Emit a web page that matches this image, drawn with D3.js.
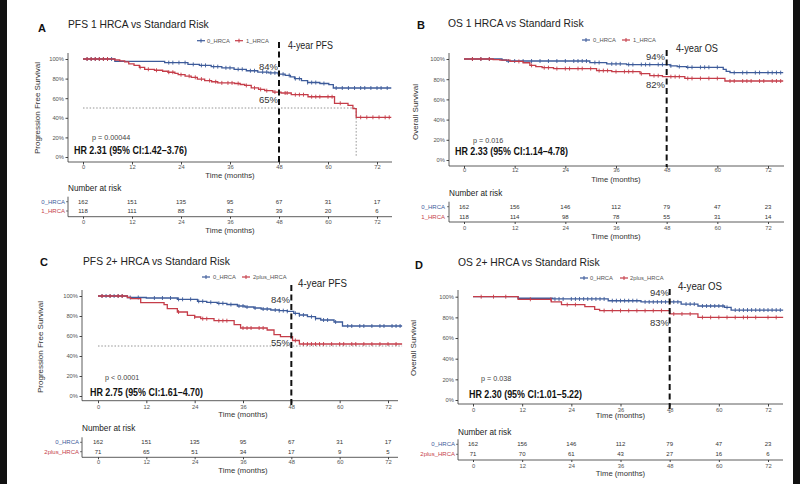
<!DOCTYPE html>
<html>
<head>
<meta charset="utf-8">
<script src="https://cdn.jsdelivr.net/npm/d3@7"></script>
<style>
  body { margin: 0; background: #fff; }
  svg { display: block; font-family: "Liberation Sans", Arial, sans-serif; }
</style>
</head>
<body>
<script>
// ---- data ----
const months = [0, 12, 24, 36, 48, 60, 72];
const yTicks = [0, 20, 40, 60, 80, 100];

const titles = ["PFS 1 HRCA vs Standard Risk", "OS 1 HRCA vs Standard Risk",
                "PFS 2+ HRCA vs Standard Risk", "OS 2+ HRCA vs Standard Risk"];
const letters = ["A", "B", "C", "D"];
const yTitles = ["Progression Free Survival", "Overall Survival",
                 "Progression Free Survival", "Overall Survival"];
const groupNames = [["0_HRCA", "1_HRCA"], ["0_HRCA", "1_HRCA"],
                    ["0_HRCA", "2plus_HRCA"], ["0_HRCA", "2plus_HRCA"]];
const pTexts = ["p = 0.00044", "p = 0.016", "p < 0.0001", "p = 0.038"];
const hrTexts = ["HR 2.31 (95% CI:1.42\u20133.76)", "HR 2.33 (95% CI:1.14\u20134.78)",
                 "HR 2.75 (95% CI:1.61\u20134.70)", "HR 2.30 (95% CI:1.01\u20135.22)"];
const landmarkLabels = ["4-year PFS", "4-year OS", "4-year PFS", "4-year OS"];
const landmarkPct = [["84%", "65%"], ["94%", "82%"], ["84%", "55%"], ["94%", "83%"]];
const landmarkMonth = 48;
const lastFollowUp = [75.5, 75.6, 75.5, 75.7];
const medianTimes = [66.9, null, "none", null]; // null = no median line, "none" = median not reached

// number at risk
const riskA0 = [162, 151, 135, 95, 67, 31, 17];
const riskA1 = [118, 111, 88, 82, 39, 20, 6];
const riskB0 = [162, 156, 146, 112, 79, 47, 23];
const riskB1 = [118, 114, 98, 78, 55, 31, 14];
const riskC0 = [162, 151, 135, 95, 67, 31, 17];
const riskC1 = [71, 65, 51, 34, 17, 9, 5];
const riskD0 = [162, 156, 146, 112, 79, 47, 23];
const riskD1 = [71, 70, 61, 43, 27, 16, 6];

// KM steps: [month, survival % after the drop]
const kmA0 = [[0,100],[7.8,97.6],[20,96.3],[25.7,94.5],[28.5,93.5],[31.4,92.2],[34,91],[37,89.5],[40,88],[42.8,86.7],[45.5,85.8],[47.8,84.5],[49.5,83.3],[50.8,81.8],[51.8,80],[53.5,78],[55,76],[58,75],[60.2,73.8],[61.3,70.4]];
const kmA1 = [[0,100],[7.8,99],[9,98],[10.2,97],[11.2,95],[12.5,93.5],[13.8,91.5],[15.1,89.5],[17.5,88.5],[19.5,87.5],[20.8,86.5],[22.5,85.3],[23.3,84],[25,82.5],[26.5,81.3],[28,79.5],[29.8,78],[31.5,76.8],[33,75.6],[37.1,75],[38.5,74],[39.6,73],[41.2,70.5],[43,69],[44.5,67.7],[46.5,66.3],[48.5,65.3],[51,63.6],[55.1,61.5],[61.6,54.8],[64.9,52.7],[66.1,49.3],[66.9,40.5]];
const kmB0 = [[0,100],[9,99],[10.1,98],[29.8,96.5],[33.8,95.2],[38.5,94.5],[48.8,93.2],[50.5,92.5],[52.7,91.8],[61.4,89.8],[62.1,87.8],[63,86.5]];
const kmB1 = [[0,100],[6.9,99.3],[8.5,98.9],[10.9,97.6],[14,96.3],[15.6,93.7],[17,92.4],[18.5,91.4],[21.2,90.5],[31.4,88.5],[35,87.5],[41.7,85.5],[44,83.5],[47,82.5],[52.3,80.8],[61.8,78.2]];
const kmC0 = [[0,100],[7.3,98.5],[12,98],[19.7,96.7],[24.7,94.7],[27,93.7],[29.6,92.7],[32,91.5],[34.6,90],[36.5,89],[38.7,88],[40.5,87],[42.9,86],[45,85.3],[47,84.7],[48.6,82.7],[50,81],[52,79.3],[54,77.5],[55.3,76],[58.6,74],[60.7,70]];
const kmC1 = [[0,100],[7.3,98.5],[8.1,97.3],[10.6,93.3],[16.4,91.3],[17.2,87.3],[19.7,84],[22.2,80.7],[24,79],[25.5,77.3],[28.8,75.3],[33.8,71.3],[35.4,68],[42,66],[43.7,61.3],[45.3,59.3],[48.3,55.5],[50,52]];
const kmD0 = [[0,100],[11,98.5],[19.5,97.8],[33,96.1],[41,94.9],[50.8,92.9],[54.9,91],[61.4,89.7],[63,87.1]];
const kmD1 = [[0,100],[11,97.5],[19.1,94.9],[21.6,92.3],[27.3,90.3],[29.7,87.8],[30.9,86.5],[48,83.3],[54.9,80]];

// censoring times (months)
const censA0 = [1,2,3,4,5,6,7,21,22,23.5,25,27,29,30,32,33,35,36,38,39,41,42,44,45,46,47,48,49,50.5,52,53,55,56,57,59,62,63.5,65,66.5,68,69,70.5,72,73,74.5];
const censA1 = [1,2,3,4,5,6,14,16,18,21,22,24,26,27.5,29,31,32.5,34,35.5,36.5,38,40,42,43.5,45,47,48,49.5,50,52,53,54,56,57,58,60,61,63,68,69.5,71,72.5,74,75];
const censB0 = [2,4,6,10.5,12,14,16,18,20,22,24,26,27,28,29,31,32,35,36,37,39,40,42,43,44,46,47,49,51,53,54,56,57,58,60,64,66,67,69,70,72,73,74,75];
const censB1 = [2,4,6,13,16,19,20,22,24,25,27,28,30,32,33,34,36,38,39,40,42,45,46,49,50,51,53,54,56,58,60,63,64,66,67,68,70,71,73,74,75];
const censC0 = [1,2,3,4,5,6,8,10,14,16,18,20,21,23,25,26,28,30,31,33,35,36,37,39,41,42,44,45,46,47,49,50,51,53,54,56,57,59,62,63,65,66,68,70,71,73,74,75];
const censC1 = [1,3,5,6,20,24,26,27,30,31,32,36,37,38,40,41,49,51,52,53,54,55,56,58,60,61,63,64,66,68,70,72,74];
const censD0 = [20,21,22,24,25,26,27,28,29,30,31,32,34,35,36,37,38,39,40,42,43,44,45,46,47,49,50,52,53,54,56,57,58,59,60,61,62,64,65,66,67,68,69,70,71,72,73,74,75];
const censD1 = [2,5,8,14,19,23,25,32,34,36,38,40,42,44,46,49,51,53,56,58,60,62,64,66,67,69,72,74];

const colors = ["#3d5b9a", "#c53d49"];

// ---- layout (pixel positions of each panel) ----
const layouts = [
  {x0:83, x72:377, y100:59, y0:157, axL:68, axR:392, top:53, axB:162, tickY:167.3, timeY:175,
   nrY:188.3, r1:201.7, r2:211, rAx:216.7, rTickY:221.7, rTimeY:230, labEnd:66,
   letX:38, letY:32, titX:68, titY:28, legY:40.7, leg:[197,207,235,246],
   lmX:288, lmY:49, lmW:45, pctR:278, pct1:67, pct2:100, hrX:74, hrY:154, pX:92, pY:137,
   yTitX:36.7, yTitY:108, dashTop:42, dashBot:162},
  {x0:464, x72:768, y100:59, y0:160, axL:449, axR:784, top:53, axB:166, tickY:170, timeY:179,
   nrY:193, r1:206.7, r2:216.7, rAx:222, rTickY:228, rTimeY:236, labEnd:446,
   letX:417, letY:29.3, titX:448, titY:26.7, legY:40, leg:[582,593,622,633],
   lmX:676, lmY:52, lmW:42, pctR:665, pct1:57, pct2:85, hrX:455, hrY:155, pX:473, pY:140,
   yTitX:415, yTitY:112, dashTop:50, dashBot:167},
  {x0:98, x72:388, y100:296, y0:396, axL:82, axR:398, top:290, axB:400.7, tickY:406.7, timeY:414.3,
   nrY:428.3, r1:442.3, r2:451.7, rAx:457.3, rTickY:461.7, rTimeY:470.7, labEnd:80,
   letX:40, letY:266, titX:83, titY:265, legY:277, leg:[202,213,242,253],
   lmX:298, lmY:287, lmW:49, pctR:290, pct1:300, pct2:343, hrX:90, hrY:395.5, pX:105, pY:377,
   yTitX:40, yTitY:347, dashTop:285, dashBot:405},
  {x0:473, x72:768, y100:296.7, y0:400, axL:458, axR:783, top:290, axB:404, tickY:409.5, timeY:415.7,
   nrY:431.7, r1:444.3, r2:454.3, rAx:460, rTickY:466, rTimeY:473.3, labEnd:456,
   letX:415, letY:269, titX:458, titY:265.5, legY:278, leg:[580,590,620,630],
   lmX:678, lmY:290, lmW:44, pctR:669, pct1:293, pct2:323, hrX:469, hrY:398, pX:481, pY:378,
   yTitX:413, yTitY:348, dashTop:289, dashBot:413}
];

const panels = [
  {km:[kmA0, kmA1], cens:[censA0, censA1], risk:[riskA0, riskA1]},
  {km:[kmB0, kmB1], cens:[censB0, censB1], risk:[riskB0, riskB1]},
  {km:[kmC0, kmC1], cens:[censC0, censC1], risk:[riskC0, riskC1]},
  {km:[kmD0, kmD1], cens:[censD0, censD1], risk:[riskD0, riskD1]}
];

const svg = d3.select("body").append("svg").attr("width", 800).attr("height", 484);
svg.append("rect").attr("width", 800).attr("height", 484).attr("fill", "#fff");

function survAt(steps, t) {
  let s = steps[0][1];
  for (const st of steps) { if (st[0] <= t) s = st[1]; }
  return s;
}

function drawPanel(i) {
  const L = layouts[i], P = panels[i];
  const x = d3.scaleLinear().domain([0, 72]).range([L.x0, L.x72]);
  const y = d3.scaleLinear().domain([0, 100]).range([L.y0, L.y100]);
  const g = svg.append("g");

  // titles
  g.append("text").attr("x", L.letX).attr("y", L.letY).text(letters[i])
    .attr("font-size", 11).attr("font-weight", "bold").attr("fill", "#111");
  g.append("text").attr("x", L.titX).attr("y", L.titY).text(titles[i])
    .attr("font-size", 10.3).attr("fill", "#222");

  // legend
  groupNames[i].forEach((name, k) => {
    const sx = L.leg[k * 2], tx = L.leg[k * 2 + 1];
    g.append("line").attr("x1", sx).attr("x2", sx + 8).attr("y1", L.legY).attr("y2", L.legY)
      .attr("stroke", colors[k]).attr("stroke-width", 1.2);
    g.append("line").attr("x1", sx + 4).attr("x2", sx + 4).attr("y1", L.legY - 2).attr("y2", L.legY + 2)
      .attr("stroke", colors[k]).attr("stroke-width", 1);
    g.append("text").attr("x", tx).attr("y", L.legY).attr("dy", "0.35em").text(name)
      .attr("font-size", 5.8).attr("fill", "#555");
  });

  // y axis
  const yAx = g.append("g").attr("transform", `translate(${L.axL},0)`)
    .call(d3.axisLeft(y).tickValues(yTicks).tickFormat(d => d + "%").tickSize(2.5).tickPadding(1.5));
  yAx.select(".domain").remove();
  yAx.selectAll("text").attr("font-size", 5.8).attr("fill", "#555").attr("font-family", null);
  yAx.selectAll("line").attr("stroke", "#444");
  g.append("line").attr("x1", L.axL).attr("x2", L.axL).attr("y1", L.top).attr("y2", L.axB)
    .attr("stroke", "#333").attr("stroke-width", 0.8);

  // x axis
  const xAx = g.append("g").attr("transform", `translate(0,${L.axB})`)
    .call(d3.axisBottom(x).tickValues(months).tickSize(2.5));
  xAx.select(".domain").remove();
  xAx.selectAll("line").attr("stroke", "#444");
  xAx.selectAll("text").attr("y", L.tickY - L.axB).attr("dy", "0.35em")
    .attr("font-size", 5.8).attr("fill", "#555").attr("font-family", null);
  g.append("line").attr("x1", L.axL).attr("x2", L.axR).attr("y1", L.axB).attr("y2", L.axB)
    .attr("stroke", "#333").attr("stroke-width", 0.8);
  g.append("text").attr("x", (x(0) + x(72)) / 2).attr("y", L.timeY).attr("dy", "0.35em")
    .attr("text-anchor", "middle").attr("font-size", 7.7).attr("fill", "#333").text("Time (months)");

  g.append("text").attr("transform", `translate(${L.yTitX},${L.yTitY}) rotate(-90)`)
    .attr("text-anchor", "middle").attr("dy", "0.35em").attr("font-size", 8).attr("fill", "#333")
    .text(yTitles[i]);

  // median line
  const med = medianTimes[i];
  if (med !== null) {
    const endT = med === "none" ? lastFollowUp[i] : med;
    g.append("line").attr("x1", x(0)).attr("x2", x(endT)).attr("y1", y(50)).attr("y2", y(50))
      .attr("stroke", "#888").attr("stroke-width", 0.9).attr("stroke-dasharray", "1.5,1.8");
    if (med !== "none") {
      g.append("line").attr("x1", x(med)).attr("x2", x(med)).attr("y1", y(50)).attr("y2", y(0))
        .attr("stroke", "#888").attr("stroke-width", 0.9).attr("stroke-dasharray", "1.5,1.8");
    }
  }

  // curves
  const line = d3.line().x(d => x(d[0])).y(d => y(d[1])).curve(d3.curveStepAfter);
  P.km.forEach((steps, k) => {
    const pts = steps.concat([[lastFollowUp[i], steps[steps.length - 1][1]]]);
    g.append("path").attr("d", line(pts)).attr("fill", "none")
      .attr("stroke", colors[k]).attr("stroke-width", 1.3);
    g.selectAll(null).data(P.cens[k]).enter().append("line")
      .attr("x1", t => x(t)).attr("x2", t => x(t))
      .attr("y1", t => y(survAt(steps, t)) - 2).attr("y2", t => y(survAt(steps, t)) + 2)
      .attr("stroke", colors[k]).attr("stroke-width", 0.9);
  });

  // 4-year landmark
  g.append("line").attr("x1", x(landmarkMonth)).attr("x2", x(landmarkMonth))
    .attr("y1", L.dashTop).attr("y2", L.dashBot)
    .attr("stroke", "#111").attr("stroke-width", 2).attr("stroke-dasharray", "6,3.5");
  g.append("text").attr("x", L.lmX).attr("y", L.lmY).text(landmarkLabels[i])
    .attr("font-size", 10.5).attr("fill", "#222")
    .attr("textLength", L.lmW).attr("lengthAdjust", "spacingAndGlyphs");
  [L.pct1, L.pct2].forEach((py, k) => {
    g.append("text").attr("x", L.pctR).attr("y", py).attr("dy", "0.35em")
      .attr("text-anchor", "end").text(landmarkPct[i][k])
      .attr("font-size", 9.5).attr("fill", "#333");
  });

  // stats
  g.append("text").attr("x", L.pX).attr("y", L.pY).attr("dy", "0.35em").text(pTexts[i])
    .attr("font-size", 7.2).attr("fill", "#444");
  g.append("text").attr("x", L.hrX).attr("y", L.hrY).text(hrTexts[i])
    .attr("font-size", 11).attr("font-weight", "bold").attr("fill", "#111")
    .attr("textLength", 113).attr("lengthAdjust", "spacingAndGlyphs");

  // number at risk table
  g.append("text").attr("x", L.axL).attr("y", L.nrY).attr("dy", "0.35em")
    .attr("font-size", 8.2).attr("fill", "#222").text("Number at risk");
  [L.r1, L.r2].forEach((ry, k) => {
    g.selectAll(null).data(P.risk[k]).enter().append("text")
      .attr("x", (d, j) => x(months[j])).attr("y", ry).attr("dy", "0.35em")
      .attr("text-anchor", "middle").attr("font-size", 6).attr("fill", "#333").text(d => d);
    g.append("text").attr("x", L.labEnd - 1).attr("y", ry).attr("dy", "0.35em")
      .attr("text-anchor", "end").attr("font-size", 6).attr("fill", colors[k]).text(groupNames[i][k]);
    g.append("line").attr("x1", L.axL - 2).attr("x2", L.axL).attr("y1", ry).attr("y2", ry)
      .attr("stroke", "#444").attr("stroke-width", 0.7);
  });
  g.append("line").attr("x1", L.axL).attr("x2", L.axL).attr("y1", L.r1 - 5).attr("y2", L.rAx)
    .attr("stroke", "#333").attr("stroke-width", 0.8);
  const rAx = g.append("g").attr("transform", `translate(0,${L.rAx})`)
    .call(d3.axisBottom(x).tickValues(months).tickSize(2));
  rAx.select(".domain").remove();
  rAx.selectAll("line").attr("stroke", "#444");
  rAx.selectAll("text").attr("y", L.rTickY - L.rAx).attr("dy", "0.35em")
    .attr("font-size", 5.8).attr("fill", "#555").attr("font-family", null);
  g.append("line").attr("x1", L.axL).attr("x2", L.axR).attr("y1", L.rAx).attr("y2", L.rAx)
    .attr("stroke", "#333").attr("stroke-width", 0.8);
  g.append("text").attr("x", (x(0) + x(72)) / 2).attr("y", L.rTimeY).attr("dy", "0.35em")
    .attr("text-anchor", "middle").attr("font-size", 7.7).attr("fill", "#333").text("Time (months)");
}

for (let i = 0; i < 4; i++) drawPanel(i);

// dark photo edges
svg.append("rect").attr("x", 0).attr("y", 0).attr("width", 7).attr("height", 484).attr("fill", "#111");
svg.append("rect").attr("x", 793).attr("y", 0).attr("width", 7).attr("height", 484).attr("fill", "#111");
</script>
</body>
</html>
